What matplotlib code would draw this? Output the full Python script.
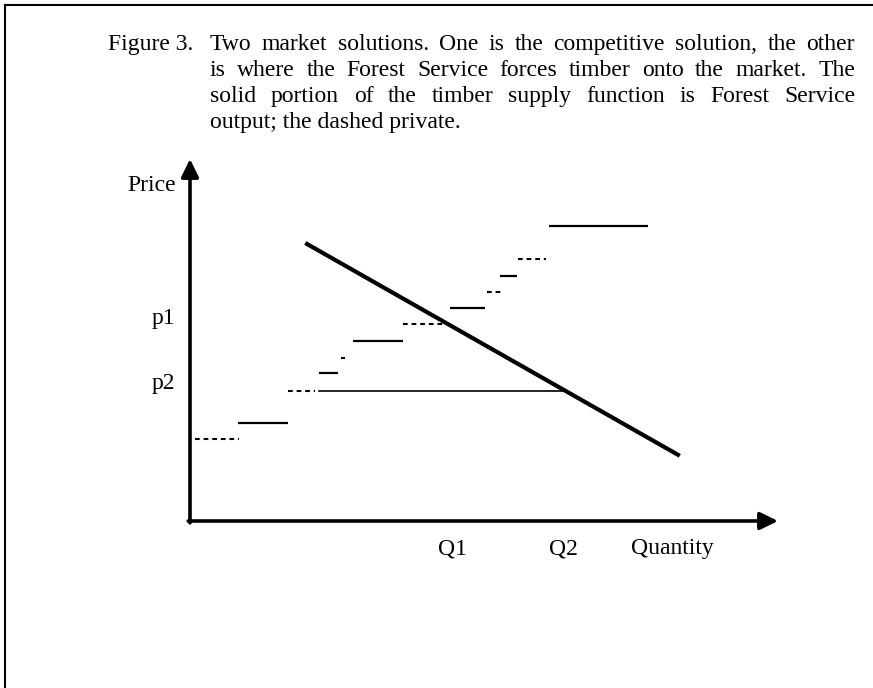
import matplotlib
matplotlib.use("Agg")
import matplotlib.pyplot as plt
from matplotlib.lines import Line2D

# ---------------- data ----------------
# supply steps: price level, start quantity, end quantity, owner
step_price = [22.7, 27.1, 35.9, 40.9, 45.0, 49.7, 54.4, 58.8, 63.3, 67.7, 72.4, 81.5]
step_q0    = [0.85, 8.2, 16.7, 21.9, 25.7, 27.7, 36.2, 44.2, 50.5, 52.7, 55.8, 61.1]
step_q1    = [8.3, 16.7, 21.3, 25.2, 26.4, 36.2, 43.4, 50.2, 52.9, 55.6, 60.5, 77.9]
step_owner = ["private", "FS", "private", "FS", "private", "FS",
              "private", "FS", "private", "FS", "private", "FS"]

demand_q = [19.6, 83.3]
demand_p = [76.8, 18.0]

p1, p2 = 54.4, 35.9
Q1, Q2 = 44.6, 63.5
p2_line_q = [21.9, 63.3]

price_labels = ["p1", "p2"]
qty_labels = ["Q1", "Q2"]

title_first = "Figure 3."
title_lines = [
    "Two market solutions. One is the competitive solution, the other",
    "is where the Forest Service forces timber onto the market. The",
    "solid portion of the timber supply function is Forest Service",
    "output; the dashed private.",
]

# ---------------- layout ----------------
W, H = 873, 688
ORX, ORY = 190, 521          # origin in pixels
SX, SY = 5.88, 3.62          # pixels per data unit
FONT = "Liberation Serif"
FS = 17

plt.rcParams["lines.scale_dashes"] = False
fig = plt.figure(figsize=(W / 100, H / 100), dpi=100)
ax = fig.add_axes([0, 0, 1, 1])
ax.set_xlim((0 - ORX) / SX, (W - ORX) / SX)
ax.set_ylim((ORY - H) / SY, (ORY - 0) / SY)
ax.axis("off")

# axes with arrows
xmax = (778 - ORX) / SX
ymax = (ORY - 159) / SY
arr = dict(arrowstyle="-|>,head_length=0.45,head_width=0.22", lw=2.6,
           color="black", shrinkA=0, shrinkB=0, mutation_scale=24)
ax.annotate("", xy=(xmax, 0), xytext=(-0.3, 0), arrowprops=arr)
ax.annotate("", xy=(0, ymax), xytext=(0, -0.5), arrowprops=arr)

# supply steps
for p, a, b, o in zip(step_price, step_q0, step_q1, step_owner):
    if o == "FS":
        ax.plot([a, b], [p, p], color="black", lw=1.6, solid_capstyle="butt")
    else:
        ax.plot([a, b], [p, p], color="black", lw=1.5, dashes=(3.4, 2.8))

# p2 horizontal line
ax.plot(p2_line_q, [p2, p2], color="black", lw=1.2)

# demand
ax.plot(demand_q, demand_p, color="black", lw=3.0, solid_capstyle="butt")

# labels
tk = dict(fontsize=FS, family=FONT, color="black")
ax.text(-6.6, 92.8, "Price", ha="center", va="center", **tk)
ax.text(-4.6, p1 + 1.6, price_labels[0], ha="center", va="center", **tk)
ax.text(-4.6, p2 + 2.0, price_labels[1], ha="center", va="center", **tk)
ax.text(Q1, -7.7, qty_labels[0], ha="center", va="center", **tk)
ax.text(Q2, -7.7, qty_labels[1], ha="center", va="center", **tk)
ax.text(82.1, -7.7, "Quantity", ha="center", va="center", **tk)

# frame (left and top edges)
fig.add_artist(Line2D([5 / W, 5 / W], [0, 1 - 5 / H], transform=fig.transFigure,
                      color="black", lw=1.5))
fig.add_artist(Line2D([5 / W, 1], [1 - 5 / H, 1 - 5 / H], transform=fig.transFigure,
                      color="black", lw=1.5))

# justified caption
renderer = fig.canvas.get_renderer()
L0, LX, RX = 108, 210, 855
baselines = [50, 76, 102, 128]


def px_text(x, y, s):
    return fig.text(x / W, 1 - y / H, s, ha="left", va="baseline",
                    fontsize=FS, family=FONT, color="black")


px_text(L0, baselines[0], title_first)
for i, line in enumerate(title_lines):
    words = line.split(" ")
    y = baselines[i]
    if i == len(title_lines) - 1:
        px_text(LX, y, line)
        continue
    arts = [px_text(0, y, w) for w in words]
    widths = [a.get_window_extent(renderer).width for a in arts]
    gap = (RX - LX - sum(widths)) / (len(words) - 1)
    x = LX
    for a, w in zip(arts, widths):
        a.set_x(x / W)
        x += w + gap

fig.savefig("out.png", dpi=100)
